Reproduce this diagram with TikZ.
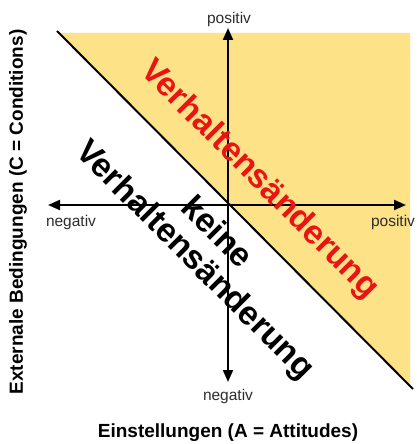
\documentclass[tikz,border=0pt]{standalone}
\usepackage{fontspec}
\setmainfont{Liberation Sans}
\usetikzlibrary{arrows.meta}
\definecolor{fillyellow}{RGB}{253,226,135}
\definecolor{redtext}{RGB}{235,20,20}
\definecolor{axislabel}{RGB}{45,45,45}
\begin{document}
\begin{tikzpicture}[x=1pt,y=-1pt,
  axis/.style={line width=2pt,-{Triangle[length=12pt,width=10pt]}},
  ticklabel/.style={font=\fontsize{15.5}{17}\selectfont,text=axislabel,inner sep=0pt},
  bigtext/.style={font=\bfseries\fontsize{33.5}{36}\selectfont,rotate=-45,inner sep=0pt},
  titletext/.style={font=\bfseries\fontsize{19}{22}\selectfont,inner sep=0pt},
  divider/.style={line width=2pt}]
\useasboundingbox (0,0) rectangle (416,444);
% shaded region
\fill[fillyellow] (59,33) -- (410,33) -- (410,386) -- cycle;
% diagonal
\coordinate (d1) at (57,31);
\coordinate (d2) at (413,389);
\draw[divider] (d1) -- (d2);
% axes
\coordinate (o) at (228,205);
\coordinate (top) at (228,28);
\coordinate (bottom) at (228,382);
\coordinate (left) at (48,205);
\coordinate (right) at (406,205);
\draw[axis] (o) -- (top);
\draw[axis] (o) -- (bottom);
\draw[axis] (o) -- (left);
\draw[axis] (o) -- (right);
% axis labels
\node[ticklabel] (ltop) at (229,19) {positiv};
\node[ticklabel] (lbottom) at (228,396) {negativ};
\node[ticklabel] (lleft) at (71,222) {negativ};
\node[ticklabel] (lright) at (393,222) {positiv};
% region texts
\node[bigtext,text=redtext] (change) at (259,180) {Verhaltensänderung};
\node[bigtext] (keine) at (218,231) {keine};
\node[bigtext] (nochange) at (194,261) {Verhaltensänderung};
% axis titles
\node[titletext] (xtitle) at (228,433) {Einstellungen (A = Attitudes)};
\node[titletext,rotate=90] (ytitle) at (18,212) {Externale Bedingungen (C = Conditions)};
\end{tikzpicture}
\end{document}
